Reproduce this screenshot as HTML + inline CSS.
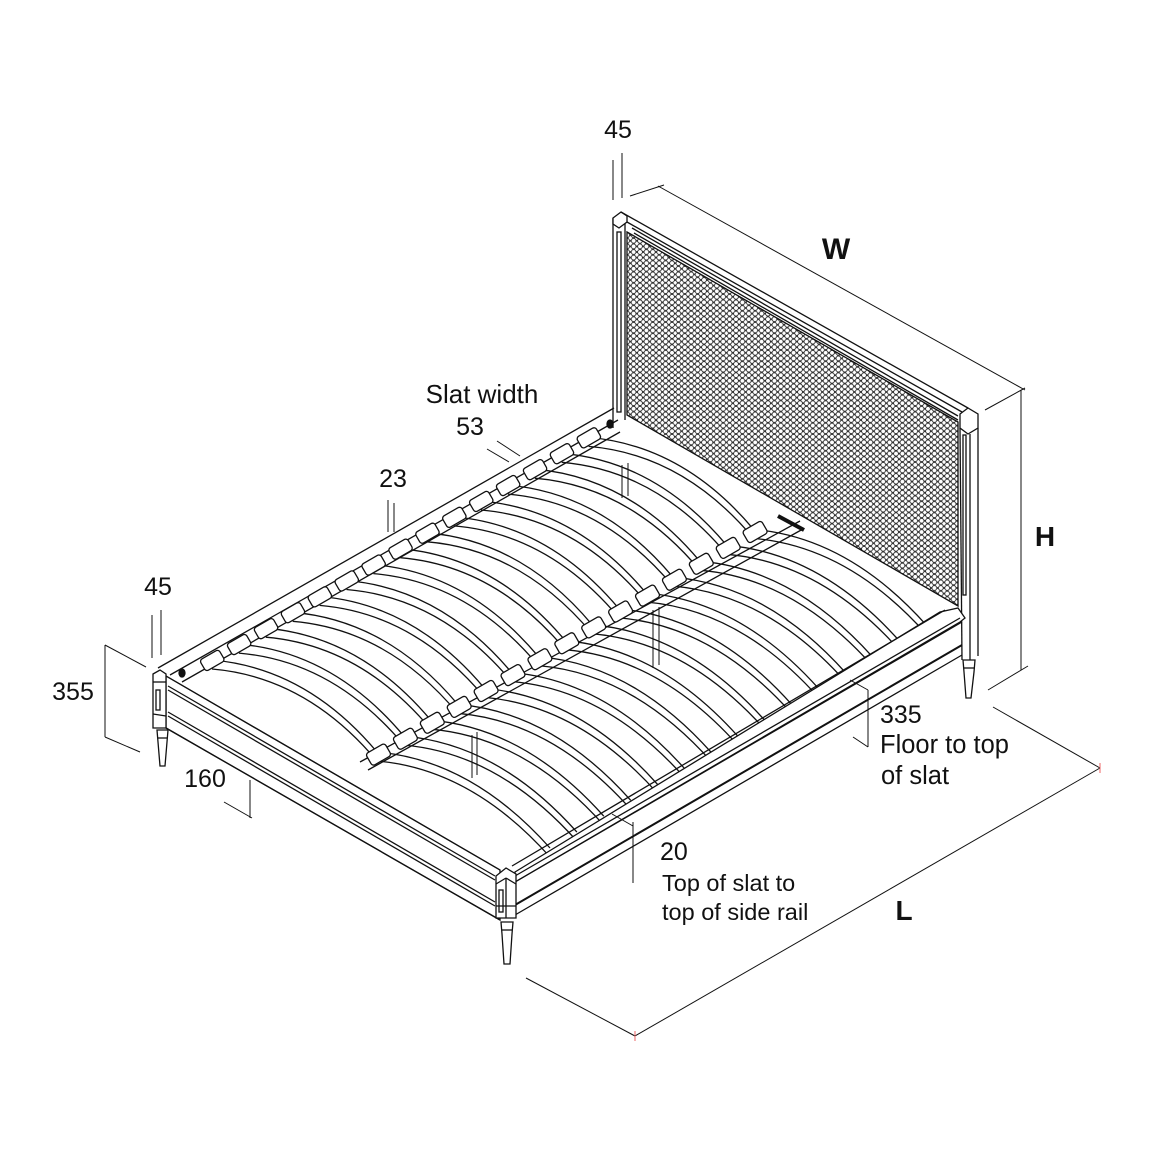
<!DOCTYPE html>
<html><head><meta charset="utf-8"><style>
html,body{margin:0;padding:0;background:#fff}
svg{display:block}
text{font-family:"Liberation Sans",Arial,sans-serif;fill:#111}
</style></head><body>
<svg id="s" width="1149" height="1149" viewBox="0 0 1149 1149" xmlns="http://www.w3.org/2000/svg" fill="none" stroke="#111" stroke-width="1.3">
<defs>
<pattern id="hex" width="6.4" height="5.6" patternUnits="userSpaceOnUse">
<circle cx="3.2" cy="2.8" r="2.4" stroke="#222" stroke-width="0.8" fill="#fff"/>
<circle cx="0" cy="0" r="2.4" stroke="#222" stroke-width="0.8" fill="#fff"/>
<circle cx="6.4" cy="0" r="2.4" stroke="#222" stroke-width="0.8" fill="#fff"/>
<circle cx="0" cy="5.6" r="2.4" stroke="#222" stroke-width="0.8" fill="#fff"/>
<circle cx="6.4" cy="5.6" r="2.4" stroke="#222" stroke-width="0.8" fill="#fff"/>
</pattern>
</defs>

<!-- headboard -->
<polygon points="627,232 958,422 958,606 627,415" fill="url(#hex)" stroke="#111"/>
<polyline points="613,218 613,428"/>
<polyline points="625,222 625,420"/>
<rect x="617" y="232" width="4" height="180" fill="#fff"/>
<polygon points="613,218 621,212 627,216 627,222 619,228 613,224" fill="#fff"/>
<line x1="621" y1="212" x2="968" y2="408"/>
<line x1="627" y1="222" x2="962" y2="412"/>
<line x1="632" y1="228" x2="958" y2="416"/>
<line x1="634" y1="233" x2="958" y2="420"/>
<!-- right post -->
<polygon points="960,414 968,408 978,414 978,428 968,434 960,428" fill="#fff"/>
<line x1="960" y1="428" x2="962" y2="660"/>
<line x1="970" y1="434" x2="970" y2="660"/>
<line x1="978" y1="428" x2="978" y2="656"/>
<rect x="963" y="435" width="3" height="160" fill="#fff"/>
<path d="M963,660 L975,660 L974,672 L971,698 L966,698 L964,672 Z" fill="#fff"/>
<line x1="964" y1="668" x2="975" y2="668"/>

<!-- left side rail -->
<line x1="158" y1="668" x2="614" y2="408"/>
<line x1="170" y1="675" x2="618" y2="420"/>
<line x1="182" y1="682" x2="620" y2="432"/>
<ellipse cx="182" cy="673" rx="3" ry="4" fill="#111"/>
<ellipse cx="610" cy="424" rx="3" ry="4" fill="#111"/>

<!-- center rail -->
<line x1="360" y1="762" x2="800" y2="521"/>
<line x1="368" y1="770" x2="803" y2="529"/>
<line x1="778" y1="516" x2="804" y2="530" stroke-width="4"/>
<!-- supports -->
<g stroke-width="1">
<line x1="472" y1="735" x2="472" y2="778"/><line x1="477" y1="732" x2="477" y2="775"/>
<line x1="653" y1="610" x2="653" y2="668"/><line x1="659" y1="607" x2="659" y2="665"/>
<line x1="622" y1="465" x2="622" y2="498"/><line x1="628" y1="463" x2="628" y2="496"/>
</g>

<g id="slats"></g>

<!-- right side rail -->
<polygon points="515,872 940,612 958,608 965,618 960,622 515,882" fill="#fff"/>
<line x1="512" y1="866" x2="945" y2="610"/>
<line x1="515" y1="876" x2="960" y2="618"/>
<line x1="515" y1="882" x2="962" y2="622"/>
<line x1="515" y1="905" x2="962" y2="645" stroke-width="2"/>
<line x1="515" y1="915" x2="962" y2="655"/>

<!-- foot end -->
<polygon points="166,676 500,870 500,920 166,728" fill="#fff"/>
<line x1="166" y1="676" x2="500" y2="870"/>
<line x1="168" y1="686" x2="495" y2="876"/>
<line x1="168" y1="690" x2="495" y2="880"/>
<line x1="168" y1="712" x2="495" y2="902"/>
<line x1="168" y1="716" x2="495" y2="906"/>
<line x1="166" y1="728" x2="500" y2="920"/>
<!-- front-left post -->
<polygon points="153,674 160,670 166,674 166,728 153,728" fill="#fff"/>
<line x1="153" y1="682" x2="166" y2="682"/>
<rect x="156" y="690" width="4" height="20" fill="#fff"/>
<line x1="153" y1="714" x2="166" y2="716"/>
<path d="M157,730 L168,730 L167,742 L165,766 L160,766 L158,742 Z" fill="#fff"/>
<line x1="158" y1="738" x2="167" y2="738"/>
<!-- front-right post -->
<polygon points="496,876 506,868 516,874 516,918 496,918" fill="#fff"/>
<line x1="496" y1="884" x2="506" y2="878"/><line x1="506" y1="878" x2="516" y2="884"/>
<line x1="506" y1="878" x2="506" y2="918"/>
<rect x="499" y="890" width="4" height="22" fill="#fff"/>
<line x1="496" y1="906" x2="516" y2="906"/>
<path d="M501,922 L513,922 L512,934 L510,964 L504,964 L502,934 Z" fill="#fff"/>
<line x1="502" y1="930" x2="512" y2="930"/>

<!-- dimension lines -->
<g stroke-width="1">
<line x1="630" y1="196" x2="664" y2="185"/>
<line x1="658" y1="186" x2="1025" y2="390"/>
<line x1="985" y1="410" x2="1025" y2="388"/>
<line x1="1021" y1="390" x2="1021" y2="670"/>
<line x1="988" y1="690" x2="1028" y2="666"/>
<line x1="526" y1="978" x2="635" y2="1036"/>
<line x1="635" y1="1036" x2="1100" y2="768"/>
<line x1="993" y1="707" x2="1100" y2="768"/>
<line x1="105" y1="645" x2="105" y2="737"/>
<line x1="105" y1="645" x2="146" y2="667"/>
<line x1="105" y1="737" x2="140" y2="752"/>
<line x1="613" y1="160" x2="613" y2="200"/><line x1="622" y1="153" x2="622" y2="198"/>
<line x1="152" y1="615" x2="152" y2="658"/><line x1="161" y1="610" x2="161" y2="655"/>
<line x1="388" y1="500" x2="388" y2="532"/><line x1="394" y1="503" x2="394" y2="532"/>
<line x1="487" y1="449" x2="509" y2="462"/><line x1="497" y1="441" x2="520" y2="456"/>
<line x1="250" y1="780" x2="250" y2="818"/><line x1="224" y1="802" x2="252" y2="818"/>
<line x1="868" y1="690" x2="868" y2="747"/><line x1="850" y1="680" x2="868" y2="690"/><line x1="853" y1="737" x2="868" y2="747"/>
<line x1="633" y1="822" x2="633" y2="883"/><line x1="612" y1="814" x2="633" y2="826"/>
</g>
<line x1="1100" y1="763" x2="1100" y2="773" stroke="#e66" stroke-width="1"/>
<line x1="635" y1="1031" x2="635" y2="1041" stroke="#e66" stroke-width="1"/>

<g stroke="none">
<text x="618" y="138" font-size="25" text-anchor="middle">45</text>
<text x="836" y="259" font-size="30" font-weight="bold" text-anchor="middle">W</text>
<text x="1045" y="546" font-size="28" font-weight="bold" text-anchor="middle">H</text>
<text x="904" y="920" font-size="28" font-weight="bold" text-anchor="middle">L</text>
<text x="482" y="403" font-size="26" text-anchor="middle">Slat width</text>
<text x="470" y="435" font-size="25" text-anchor="middle">53</text>
<text x="393" y="487" font-size="25" text-anchor="middle">23</text>
<text x="158" y="595" font-size="25" text-anchor="middle">45</text>
<text x="73" y="700" font-size="25" text-anchor="middle">355</text>
<text x="205" y="787" font-size="25" text-anchor="middle">160</text>
<text x="880" y="723" font-size="25">335</text>
<text x="880" y="753" font-size="25.5">Floor to top</text>
<text x="881" y="784" font-size="25.5">of slat</text>
<text x="660" y="860" font-size="25">20</text>
<text x="662" y="891" font-size="23.5">Top of slat to</text>
<text x="662" y="920" font-size="23.5">top of side rail</text>
</g>
</svg>
<script>
(function(){
var g=document.getElementById('slats'),h='';
var L0=[212,660],st=[26.9,-15.9],W=[165,92];
for(var i=0;i<15;i++){
 var x=L0[0]+st[0]*i,y=L0[1]+st[1]*i;
 var cx=x+W[0],cy=y+W[1],rx=cx+W[0]+8,ry=cy+W[1]+4;
 for(var k=0;k<2;k++){
  var o=k*9;
  h+='<path d="M'+x+','+(y+o)+' Q'+(x+W[0]/2+12)+','+(y+W[1]/2-38+o)+' '+cx+','+(cy+o)+'" fill="none"/>';
  h+='<path d="M'+cx+','+(cy+o)+' Q'+(cx+W[0]/2+12)+','+(cy+W[1]/2-38+o)+' '+rx+','+(ry+o)+'" fill="none"/>';
 }
 h+='<rect x="'+(x-11)+'" y="'+(y-6)+'" width="22" height="13" rx="3" transform="rotate(-30 '+x+' '+y+')" fill="#fff"/>';
 h+='<rect x="'+(cx-11)+'" y="'+(cy-4)+'" width="22" height="14" rx="3" transform="rotate(-30 '+cx+' '+cy+')" fill="#fff"/>';
}
g.innerHTML=h;
})();
</script>
</body></html>
